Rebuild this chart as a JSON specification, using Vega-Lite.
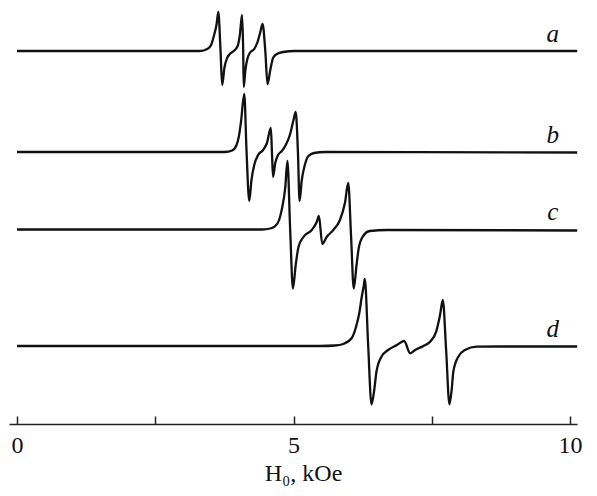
{
  "$schema": "https://vega.github.io/schema/vega-lite/v6.json",
  "width": 568,
  "height": 424,
  "autosize": {"type": "none"},
  "padding": {"left": 9, "top": 0, "right": 20, "bottom": 72},
  "background": "white",
  "config": {"view": {"stroke": null}},
  "datasets": {
    "spectra": [
      {"curve": "a", "field": 0.00, "signal": 373},
      {"curve": "a", "field": 3.31, "signal": 373},
      {"curve": "a", "field": 3.44, "signal": 375},
      {"curve": "a", "field": 3.51, "signal": 379},
      {"curve": "a", "field": 3.56, "signal": 388},
      {"curve": "a", "field": 3.61, "signal": 400},
      {"curve": "a", "field": 3.64, "signal": 412},
      {"curve": "a", "field": 3.68, "signal": 374},
      {"curve": "a", "field": 3.71, "signal": 339},
      {"curve": "a", "field": 3.75, "signal": 356},
      {"curve": "a", "field": 3.80, "signal": 366},
      {"curve": "a", "field": 3.85, "signal": 370},
      {"curve": "a", "field": 3.92, "signal": 373},
      {"curve": "a", "field": 3.99, "signal": 378},
      {"curve": "a", "field": 4.03, "signal": 389},
      {"curve": "a", "field": 4.07, "signal": 409},
      {"curve": "a", "field": 4.09, "signal": 374},
      {"curve": "a", "field": 4.10, "signal": 337},
      {"curve": "a", "field": 4.13, "signal": 354},
      {"curve": "a", "field": 4.17, "signal": 366},
      {"curve": "a", "field": 4.21, "signal": 371},
      {"curve": "a", "field": 4.29, "signal": 375},
      {"curve": "a", "field": 4.35, "signal": 382},
      {"curve": "a", "field": 4.40, "signal": 392},
      {"curve": "a", "field": 4.44, "signal": 400},
      {"curve": "a", "field": 4.49, "signal": 373},
      {"curve": "a", "field": 4.53, "signal": 340},
      {"curve": "a", "field": 4.58, "signal": 354},
      {"curve": "a", "field": 4.63, "signal": 366},
      {"curve": "a", "field": 4.70, "signal": 370},
      {"curve": "a", "field": 4.81, "signal": 372},
      {"curve": "a", "field": 5.03, "signal": 373},
      {"curve": "a", "field": 10.13, "signal": 373},

      {"curve": "b", "field": 0.00, "signal": 272},
      {"curve": "b", "field": 3.76, "signal": 272},
      {"curve": "b", "field": 3.89, "signal": 273.5},
      {"curve": "b", "field": 3.97, "signal": 279},
      {"curve": "b", "field": 4.01, "signal": 287},
      {"curve": "b", "field": 4.05, "signal": 302},
      {"curve": "b", "field": 4.11, "signal": 330},
      {"curve": "b", "field": 4.15, "signal": 274},
      {"curve": "b", "field": 4.20, "signal": 223},
      {"curve": "b", "field": 4.24, "signal": 244},
      {"curve": "b", "field": 4.29, "signal": 259},
      {"curve": "b", "field": 4.36, "signal": 269},
      {"curve": "b", "field": 4.45, "signal": 274},
      {"curve": "b", "field": 4.52, "signal": 281},
      {"curve": "b", "field": 4.59, "signal": 296},
      {"curve": "b", "field": 4.61, "signal": 272},
      {"curve": "b", "field": 4.63, "signal": 247},
      {"curve": "b", "field": 4.67, "signal": 261},
      {"curve": "b", "field": 4.72, "signal": 269},
      {"curve": "b", "field": 4.79, "signal": 273},
      {"curve": "b", "field": 4.86, "signal": 279},
      {"curve": "b", "field": 4.94, "signal": 290},
      {"curve": "b", "field": 5.00, "signal": 304},
      {"curve": "b", "field": 5.04, "signal": 312},
      {"curve": "b", "field": 5.08, "signal": 272},
      {"curve": "b", "field": 5.11, "signal": 223},
      {"curve": "b", "field": 5.15, "signal": 244},
      {"curve": "b", "field": 5.20, "signal": 258},
      {"curve": "b", "field": 5.27, "signal": 268},
      {"curve": "b", "field": 5.37, "signal": 271},
      {"curve": "b", "field": 5.57, "signal": 272},
      {"curve": "b", "field": 10.13, "signal": 271.5},

      {"curve": "c", "field": 0.00, "signal": 194.5},
      {"curve": "c", "field": 4.43, "signal": 194.5},
      {"curve": "c", "field": 4.58, "signal": 195.5},
      {"curve": "c", "field": 4.67, "signal": 198},
      {"curve": "c", "field": 4.74, "signal": 204},
      {"curve": "c", "field": 4.79, "signal": 215},
      {"curve": "c", "field": 4.85, "signal": 236},
      {"curve": "c", "field": 4.89, "signal": 263},
      {"curve": "c", "field": 4.94, "signal": 194},
      {"curve": "c", "field": 4.99, "signal": 135.5},
      {"curve": "c", "field": 5.04, "signal": 159},
      {"curve": "c", "field": 5.09, "signal": 177},
      {"curve": "c", "field": 5.18, "signal": 187},
      {"curve": "c", "field": 5.33, "signal": 194},
      {"curve": "c", "field": 5.42, "signal": 202},
      {"curve": "c", "field": 5.46, "signal": 208},
      {"curve": "c", "field": 5.52, "signal": 180},
      {"curve": "c", "field": 5.60, "signal": 187},
      {"curve": "c", "field": 5.72, "signal": 194},
      {"curve": "c", "field": 5.84, "signal": 204},
      {"curve": "c", "field": 5.93, "signal": 221},
      {"curve": "c", "field": 5.99, "signal": 241},
      {"curve": "c", "field": 6.04, "signal": 189},
      {"curve": "c", "field": 6.09, "signal": 135.5},
      {"curve": "c", "field": 6.14, "signal": 159},
      {"curve": "c", "field": 6.18, "signal": 176},
      {"curve": "c", "field": 6.26, "signal": 188},
      {"curve": "c", "field": 6.38, "signal": 193},
      {"curve": "c", "field": 6.69, "signal": 194},
      {"curve": "c", "field": 10.13, "signal": 193.5},

      {"curve": "d", "field": 0.00, "signal": 78},
      {"curve": "d", "field": 5.48, "signal": 78},
      {"curve": "d", "field": 5.75, "signal": 78.5},
      {"curve": "d", "field": 5.90, "signal": 80},
      {"curve": "d", "field": 6.05, "signal": 85.7},
      {"curve": "d", "field": 6.14, "signal": 99},
      {"curve": "d", "field": 6.19, "signal": 111},
      {"curve": "d", "field": 6.23, "signal": 125.7},
      {"curve": "d", "field": 6.27, "signal": 138},
      {"curve": "d", "field": 6.29, "signal": 145},
      {"curve": "d", "field": 6.35, "signal": 79},
      {"curve": "d", "field": 6.41, "signal": 19.7},
      {"curve": "d", "field": 6.46, "signal": 34},
      {"curve": "d", "field": 6.50, "signal": 52.3},
      {"curve": "d", "field": 6.59, "signal": 67.3},
      {"curve": "d", "field": 6.71, "signal": 74},
      {"curve": "d", "field": 6.87, "signal": 79},
      {"curve": "d", "field": 7.00, "signal": 83},
      {"curve": "d", "field": 7.11, "signal": 70.7},
      {"curve": "d", "field": 7.20, "signal": 74},
      {"curve": "d", "field": 7.35, "signal": 78},
      {"curve": "d", "field": 7.47, "signal": 82.3},
      {"curve": "d", "field": 7.58, "signal": 92.3},
      {"curve": "d", "field": 7.65, "signal": 109},
      {"curve": "d", "field": 7.70, "signal": 124},
      {"curve": "d", "field": 7.76, "signal": 74},
      {"curve": "d", "field": 7.82, "signal": 19.7},
      {"curve": "d", "field": 7.86, "signal": 34},
      {"curve": "d", "field": 7.89, "signal": 52.3},
      {"curve": "d", "field": 7.98, "signal": 67.3},
      {"curve": "d", "field": 8.10, "signal": 74},
      {"curve": "d", "field": 8.31, "signal": 77.3},
      {"curve": "d", "field": 8.73, "signal": 77.5},
      {"curve": "d", "field": 10.13, "signal": 77.5}
    ],
    "labels": [
      {"curve": "a", "field": 9.69, "signal": 382.3},
      {"curve": "b", "field": 9.69, "signal": 281.3},
      {"curve": "c", "field": 9.69, "signal": 204},
      {"curve": "d", "field": 9.69, "signal": 87.3}
    ]
  },
  "layer": [
    {
      "data": {"name": "spectra"},
      "mark": {"type": "line", "interpolate": "monotone", "color": "#111111", "strokeWidth": 2.3},
      "encoding": {
        "x": {
          "field": "field", "type": "quantitative",
          "scale": {"domain": [-0.1447, 10.1266], "nice": false, "zero": false},
          "axis": {
            "values": [0, 2.5, 5, 7.5, 10],
            "labelExpr": "datum.value % 5 === 0 ? format(datum.value, 'd') : ''",
            "tickSize": -8,
            "tickWidth": 1.5,
            "tickColor": "#222",
            "domainColor": "#222",
            "domainWidth": 1.6,
            "grid": false,
            "labelFont": "Liberation Serif",
            "labelFontSize": 24,
            "labelColor": "#111",
            "labelPadding": 17,
            "labelFlush": false,
            "labelOverlap": false,
            "title": "H₀, kOe",
            "titleFont": "Liberation Serif",
            "titleFontSize": 24,
            "titleFontWeight": "normal",
            "titleColor": "#111",
            "titlePadding": 4,
            "titleX": 294,
            "titleAlign": "center"
          }
        },
        "y": {
          "field": "signal", "type": "quantitative",
          "scale": {"domain": [0, 424], "nice": false, "zero": false},
          "axis": null
        },
        "detail": {"field": "curve", "type": "nominal"}
      }
    },
    {
      "data": {"name": "labels"},
      "mark": {"type": "text", "font": "Liberation Serif", "fontStyle": "italic", "fontSize": 25, "align": "center", "baseline": "alphabetic", "color": "#111"},
      "encoding": {
        "x": {"field": "field", "type": "quantitative"},
        "y": {"field": "signal", "type": "quantitative"},
        "text": {"field": "curve", "type": "nominal"}
      }
    }
  ]
}
